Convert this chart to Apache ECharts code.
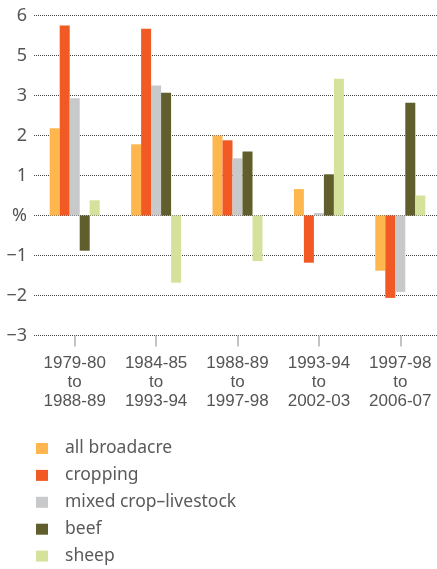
<!DOCTYPE html>
<html>
<head>
<meta charset="utf-8">
<script src="https://cdn.jsdelivr.net/npm/echarts@6/dist/echarts.min.js"></script>
<style>
  html, body { margin: 0; padding: 0; background: #fff; }
  #chart { width: 437px; height: 569px; }
</style>
</head>
<body>
<div id="chart"></div>
<script>
var categories = ['1979-80\nto\n1988-89', '1984-85\nto\n1993-94', '1988-89\nto\n1997-98', '1993-94\nto\n2002-03', '1997-98\nto\n2006-07'];

// values read against the evenly spaced gridlines (one gridline = 1 unit)
var allBroadacre = [2.18, 1.78, 2.00, 0.66, -1.38];
var cropping     = [4.75, 4.67, 1.88, -1.18, -2.06];
var mixedCrop    = [2.93, 3.25, 1.43, 0.06, -1.91];
var beef         = [-0.88, 3.07, 1.60, 1.03, 2.82];
var sheep        = [0.38, -1.68, -1.14, 3.42, 0.50];

// tick labels as printed in the original, from -3 upwards (no "4" on the source)
var yTickLabels = ['\u22123', '\u22122', '\u22121', '%', '1', '2', '3', '5', '6'];

var seriesNames = ['all broadacre', 'cropping', 'mixed crop\u2013livestock', 'beef', 'sheep'];
var seriesColors = ['#fdb74e', '#f15a24', '#c8c9cb', '#5f5e2c', '#d4e29c'];
var seriesData = [allBroadacre, cropping, mixedCrop, beef, sheep];

var chart = echarts.init(document.getElementById('chart'));

var series = [];
for (var i = 0; i < seriesNames.length; i++) {
    series.push({
        name: seriesNames[i],
        type: 'bar',
        data: seriesData[i],
        barWidth: 10,
        barGap: '0%',
        itemStyle: { color: seriesColors[i] }
    });
}

var option = {
    animation: false,
    grid: {
        left: 34,
        right: -4,
        top: 15.5,
        bottom: 233.5,
        containLabel: false,
        outerBoundsMode: 'none'
    },
    legend: {
        orient: 'vertical',
        left: 36,
        top: 439.5,
        height: 140,
        padding: 0,
        icon: 'rect',
        itemWidth: 12,
        itemHeight: 11,
        itemGap: 8.9,
        data: seriesNames,
        textStyle: {
            fontFamily: 'Noto Sans',
            fontSize: 17.5,
            lineHeight: 16,
            color: '#5a5a5a',
            padding: [0, 0, 0, 12]
        }
    },
    xAxis: {
        type: 'category',
        data: categories,
        axisLine: { show: false, onZero: false },
        axisTick: {
            show: true,
            alignWithLabel: true,
            length: 11,
            lineStyle: { color: '#b0b0b0', width: 1.5 }
        },
        axisLabel: {
            margin: 18,
            fontFamily: '"Liberation Sans Narrow", "Liberation Sans"',
            fontSize: 17,
            lineHeight: 19,
            color: '#555'
        }
    },
    yAxis: {
        type: 'value',
        min: -3,
        max: 5,
        interval: 1,
        axisLine: { show: false },
        axisTick: { show: false },
        splitLine: {
            show: true,
            lineStyle: { color: '#444', type: 'dotted', width: 1 }
        },
        axisLabel: {
            margin: 7,
            fontFamily: 'Noto Sans',
            fontSize: 18,
            color: '#555',
            formatter: function(v) {
                return yTickLabels[Math.round(v) + 3];
            }
        }
    },
    series: series
};
chart.setOption(option);
</script>
</body>
</html>
